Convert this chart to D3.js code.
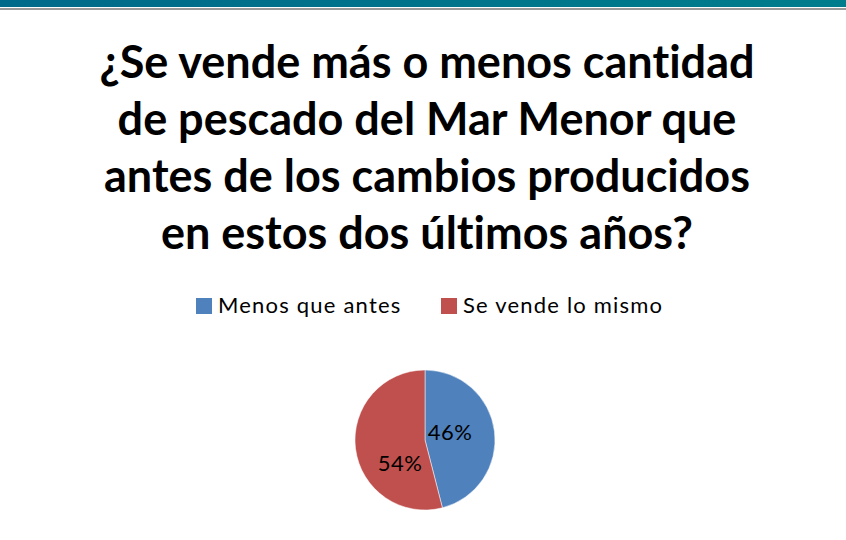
<!DOCTYPE html>
<html>
<head>
<meta charset="utf-8">
<script src="https://cdn.jsdelivr.net/npm/d3@7"></script>
<style>
body { margin: 0; background: #fff; }
svg { display: block; }
text { font-variant-ligatures: none; }
</style>
</head>
<body>
<svg id="chart" width="846" height="540"></svg>
<script>
var categories = ["Menos que antes", "Se vende lo mismo"]
var values = [46, 54]
var colors = ["#4F81BD", "#C0504D"]
var titleLines = [
    "¿Se vende más o menos cantidad",
    "de pescado del Mar Menor que",
    "antes de los cambios producidos",
    "en estos dos últimos años?"
]

var svg = d3.select("#chart")
var font = "Lato, 'Open Sans', sans-serif"

// top banner
var defs = svg.append("defs")
var grad = defs.append("linearGradient").attr("id", "band")
grad.append("stop").attr("offset", "0%").attr("stop-color", "#006A8A")
grad.append("stop").attr("offset", "100%").attr("stop-color", "#007D8C")
svg.append("rect").attr("x", 0).attr("y", 0).attr("width", 846).attr("height", 7).attr("fill", "url(#band)")
svg.append("rect").attr("x", 0).attr("y", 8).attr("width", 846).attr("height", 2).attr("fill", "#9a9a9a")

// title
svg.append("g").selectAll("text")
    .data(titleLines)
    .enter()
    .append("text")
    .attr("x", 427)
    .attr("y", function (d, i) { return 78 + i * 57 })
    .attr("text-anchor", "middle")
    .style("font-family", font)
    .style("font-weight", "bold")
    .style("font-size", "45px")
    .style("fill", "#000")
    .text(function (d) { return d })

// legend
var legendX = [196, 441]
var legend = svg.append("g").selectAll("g")
    .data(categories)
    .enter()
    .append("g")
    .attr("transform", function (d, i) { return "translate(" + legendX[i] + ",298)" })
legend.append("rect")
    .attr("width", 16).attr("height", 16)
    .attr("fill", function (d, i) { return colors[i] })
legend.append("text")
    .attr("x", 22).attr("y", 15)
    .style("font-family", font)
    .style("font-size", "22px")
    .style("letter-spacing", "1.2px")
    .style("fill", "#000")
    .text(function (d) { return d })

// pie
var cx = 425, cy = 440, r = 70
var pie = d3.pie().sort(null)
var arc = d3.arc().innerRadius(0).outerRadius(r)
var arcs = pie(values)
var g = svg.append("g").attr("transform", "translate(" + cx + "," + cy + ")")
g.selectAll("path")
    .data(arcs)
    .enter()
    .append("path")
    .attr("d", arc)
    .attr("fill", function (d, i) { return colors[i] })
    .attr("stroke", "#fff")
    .attr("stroke-width", 0.5)

// labels sit inside, nudged downward like the original
var labelArc = d3.arc().innerRadius(r * 0.36).outerRadius(r * 0.36)
var nudge = [[0, -5], [0, 20]]
g.selectAll("text")
    .data(arcs)
    .enter()
    .append("text")
    .attr("transform", function (d, i) {
        var c = labelArc.centroid(d)
        return "translate(" + (c[0] + nudge[i][0]) + "," + (c[1] + nudge[i][1]) + ")"
    })
    .attr("text-anchor", "middle")
    .attr("dy", "0.35em")
    .style("font-family", font)
    .style("font-size", "22px")
    .style("letter-spacing", "0.5px")
    .style("fill", "#000")
    .text(function (d) { return d.data + "%" })
</script>
</body>
</html>
